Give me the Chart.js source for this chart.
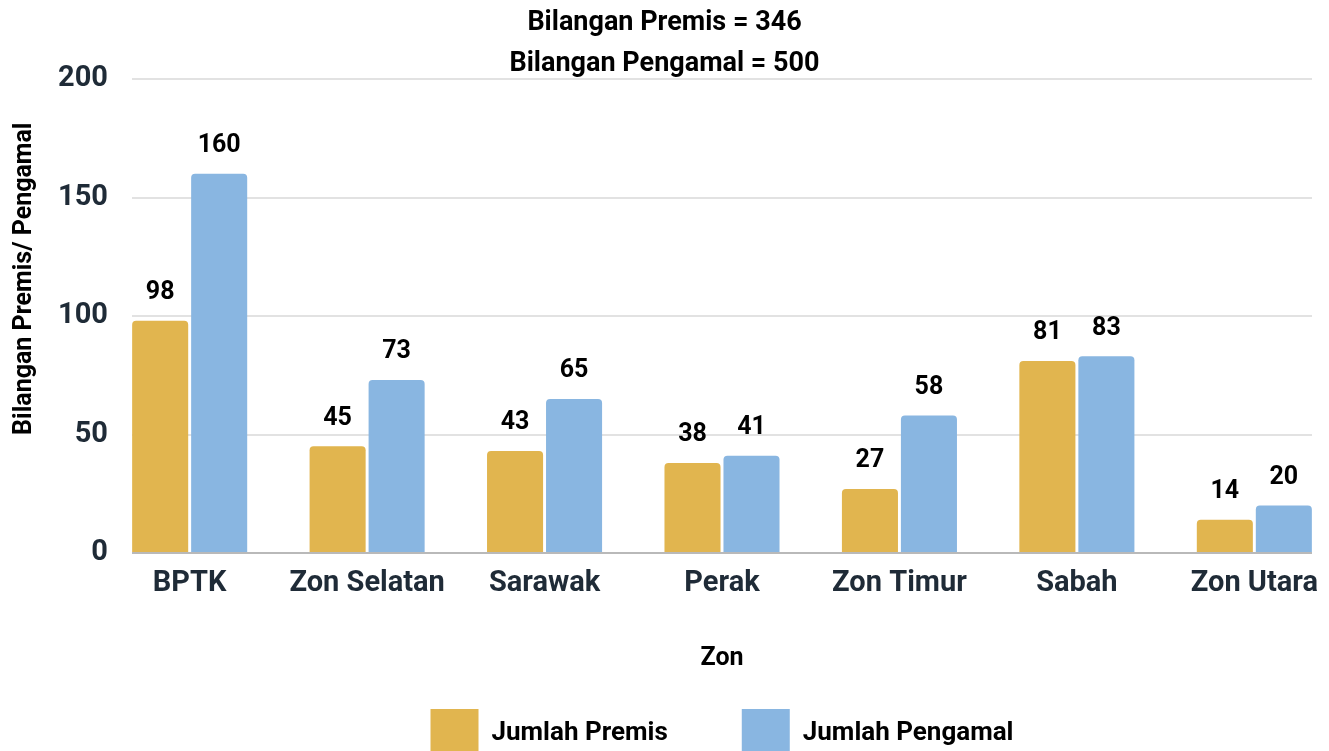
<!DOCTYPE html>
<html>
<head>
<meta charset="utf-8">
<script src="https://cdn.jsdelivr.net/npm/chart.js@4.4.1/dist/chart.umd.min.js"></script>
<style>
  html, body { margin: 0; padding: 0; background: #ffffff; overflow: hidden; }
  #wrap { position: relative; width: 1329px; height: 767px; }
</style>
</head>
<body>
<div id="wrap"><canvas id="c"></canvas></div>
<script>
// ---- data ----
const categories = ['BPTK', 'Zon Selatan', 'Sarawak', 'Perak', 'Zon Timur', 'Sabah', 'Zon Utara'];
const jumlahPremis = [98, 45, 43, 38, 27, 81, 14];
const jumlahPengamal = [160, 73, 65, 41, 58, 83, 20];
const seriesNames = ['Jumlah Premis', 'Jumlah Pengamal'];
const titleLines = ['Bilangan Premis = 346', 'Bilangan Pengamal = 500'];
const yTicks = [0, 50, 100, 150, 200];
const xTitle = 'Zon';
const yTitle = 'Bilangan Premis/ Pengamal';

const FONT = "'Roboto', 'Noto Sans', sans-serif";
Chart.defaults.font.family = FONT;
Chart.defaults.font.weight = 'bold';

const GOLD = '#E1B54F';
const BLUE = '#89B6E1';
const TICK_COLOR = '#1f2b37';

const toPoints = arr => arr.map((v, i) => ({ x: i, y: v }));

const dataLabels = {
  id: 'dataLabels',
  afterDatasetsDraw(chart) {
    const ctx = chart.ctx;
    ctx.save();
    ctx.font = 'bold 25px ' + FONT;
    ctx.fillStyle = '#000000';
    ctx.textAlign = 'center';
    ctx.textBaseline = 'middle';
    chart.data.datasets.forEach((ds, di) => {
      const meta = chart.getDatasetMeta(di);
      meta.data.forEach((el, i) => {
        ctx.fillText(String(ds.data[i].y), el.x, el.y - 28);
      });
    });
    ctx.restore();
  }
};

new Chart(document.getElementById('c'), {
  type: 'bar',
  data: {
    datasets: [
      { label: seriesNames[0], data: toPoints(jumlahPremis), backgroundColor: GOLD,
        borderRadius: 4, borderSkipped: 'start', barPercentage: 0.95, categoryPercentage: 0.665 },
      { label: seriesNames[1], data: toPoints(jumlahPengamal), backgroundColor: BLUE,
        borderRadius: 4, borderSkipped: 'start', barPercentage: 0.95, categoryPercentage: 0.665 }
    ]
  },
  options: {
    responsive: true,
    maintainAspectRatio: false,
    animation: false,
    layout: { padding: { left: 17, right: 17, top: 0, bottom: 0 } },
    plugins: {
      tooltip: { enabled: false },
      title: {
        display: true,
        text: titleLines,
        color: '#000000',
        font: { size: 27, weight: 'bold', lineHeight: '41px' },
        padding: { top: 3, bottom: -6 }
      },
      legend: {
        position: 'bottom',
        fullSize: false,
        labels: {
          boxWidth: 48,
          boxHeight: 48,
          padding: 74,
          color: '#000000',
          font: { size: 26, weight: 'bold' }
        }
      }
    },
    scales: {
      x: {
        type: 'linear',
        offset: false,
        min: -0.325,
        max: 6.325,
        grid: { display: false, drawTicks: false, offset: false },
        border: { display: false },
        afterBuildTicks: s => { s.ticks = categories.map((_, i) => ({ value: i })); },
        afterFit: s => { s.height = 82; s.paddingLeft = 0; s.paddingRight = 0; },
        ticks: {
          autoSkip: false,
          maxRotation: 0,
          padding: 13,
          color: TICK_COLOR,
          font: { size: 29, weight: 'bold' },
          callback: v => categories[v] ?? ''
        },
        title: {
          display: true,
          text: xTitle,
          color: '#000000',
          font: { size: 25, weight: 'bold' },
          padding: { top: 0, bottom: -39 }
        }
      },
      y: {
        min: 0,
        max: 200,
        afterBuildTicks: s => { s.ticks = yTicks.map(v => ({ value: v })); },
        afterFit: s => { s.width = 115; },
        grid: {
          drawTicks: false,
          lineWidth: 2,
          color: c => (c.tick && c.tick.value === 0) ? '#b9b9b9' : '#e2e2e2'
        },
        border: { display: false },
        ticks: {
          padding: 24,
          color: TICK_COLOR,
          font: { size: 29, weight: 'bold' }
        },
        title: {
          display: true,
          text: '            ' + yTitle,
          color: '#000000',
          font: { size: 25, weight: 'bold' },
          padding: { top: -7, bottom: 0 }
        }
      }
    }
  },
  plugins: [dataLabels]
});
</script>
</body>
</html>
